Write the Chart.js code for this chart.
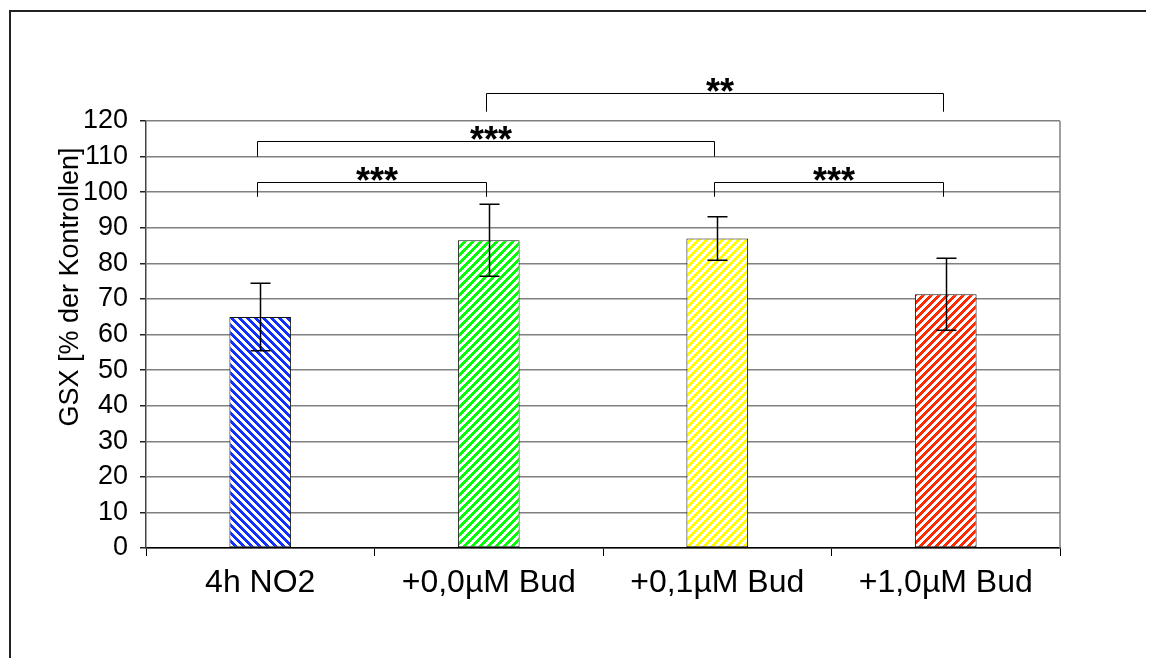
<!DOCTYPE html>
<html>
<head>
<meta charset="utf-8">
<script src="https://cdn.jsdelivr.net/npm/chart.js@4"></script>
<style>
  html, body { margin: 0; padding: 0; background: #fff; }
  #wrap { width: 1156px; height: 668px; position: relative; }
</style>
</head>
<body>
<div id="wrap"><canvas id="myChart"></canvas></div>
<script>
    // groups and measured values
    var categories = ['4h NO2', '+0,0\u00b5M Bud', '+0,1\u00b5M Bud', '+1,0\u00b5M Bud'];
    var means = [64.9, 86.5, 87.0, 71.3];
    var errors = [9.5, 10.1, 6.1, 10.1];
    var barColors = ['#1030ff', '#00ff00', '#ffff00', '#ff2a00'];
    var stripeDir = ['down', 'up', 'up', 'up'];

    // significance brackets: from/to category index, bar height, end height, stars
    var bracketFrom = [0, 0, 1, 2];
    var bracketTo = [1, 2, 3, 3];
    var bracketTop = [102.8, 114.4, 127.8, 102.8];
    var bracketEnd = [98.7, 110.0, 122.6, 98.7];
    var bracketLabel = ['***', '***', '**', '***'];

    var yTicks = [0, 10, 20, 30, 40, 50, 60, 70, 80, 90, 100, 110, 120];
    var yTitle = 'GSX [% der Kontrollen]';

    // 8x8 hatch like the old office fills
    function makeStripes(color, dir) {
        var c = document.createElement('canvas');
        c.width = 8; c.height = 8;
        var g = c.getContext('2d');
        g.fillStyle = '#fff';
        g.fillRect(0, 0, 8, 8);
        g.fillStyle = color;
        for (var y = 0; y < 8; y++) {
            for (var x = 0; x < 8; x++) {
                var k = dir === 'up' ? (x + y) % 8 : ((x - y) % 8 + 8) % 8;
                if (k < 4) g.fillRect(x, y, 1, 1);
            }
        }
        return c;
    }

    var errorBars = {
        id: 'errorBars',
        afterDatasetsDraw: function (chart) {
            var ctx = chart.ctx;
            var y = chart.scales.y;
            var meta = chart.getDatasetMeta(0);
            ctx.save();
            ctx.strokeStyle = '#000';
            ctx.lineWidth = 1.5;
            meta.data.forEach(function (bar, i) {
                var x = Math.round(bar.x) + 0.5;
                var hi = y.getPixelForValue(means[i] + errors[i]);
                var lo = y.getPixelForValue(means[i] - errors[i]);
                ctx.beginPath();
                ctx.moveTo(x, hi); ctx.lineTo(x, lo);
                ctx.moveTo(x - 10, hi); ctx.lineTo(x + 10, hi);
                ctx.moveTo(x - 10, lo); ctx.lineTo(x + 10, lo);
                ctx.stroke();
            });
            ctx.restore();
        }
    };

    var extras = {
        id: 'extras',
        afterDraw: function (chart) {
            var ctx = chart.ctx;
            var xs = chart.scales.x, ys = chart.scales.y;
            var area = chart.chartArea;
            ctx.save();

            // right edge of the plot area
            ctx.strokeStyle = '#808080';
            ctx.lineWidth = 1.5;
            ctx.beginPath();
            ctx.moveTo(area.right, area.top);
            ctx.lineTo(area.right, area.bottom);
            ctx.stroke();

            // brackets with stars
            ctx.strokeStyle = '#000';
            ctx.lineWidth = 1;
            ctx.fillStyle = '#000';
            ctx.font = 'bold 36px "Liberation Sans", Arial, sans-serif';
            ctx.textAlign = 'center';
            ctx.textBaseline = 'alphabetic';
            for (var i = 0; i < bracketLabel.length; i++) {
                var x1 = Math.round(xs.getPixelForValue(bracketFrom[i])) - 2.5;
                var x2 = Math.round(xs.getPixelForValue(bracketTo[i])) - 2.5;
                var yt = Math.round(ys.getPixelForValue(bracketTop[i])) + 0.5;
                var ye = ys.getPixelForValue(bracketEnd[i]);
                ctx.beginPath();
                ctx.moveTo(x1, ye); ctx.lineTo(x1, yt);
                ctx.lineTo(x2, yt); ctx.lineTo(x2, ye);
                ctx.stroke();
                ctx.fillText(bracketLabel[i], (x1 + x2) / 2 + 5, yt + 10);
            }

            // axis title
            ctx.font = '27px "Liberation Sans", Arial, sans-serif';
            ctx.translate(71, 287);
            ctx.rotate(-Math.PI / 2);
            ctx.textBaseline = 'middle';
            ctx.fillText(yTitle, 0, 0);
            ctx.restore();

            // frame around the whole chart
            ctx.save();
            ctx.strokeStyle = '#222';
            ctx.lineWidth = 2;
            ctx.beginPath();
            ctx.moveTo(10, 658);
            ctx.lineTo(10, 11);
            ctx.lineTo(1146, 11);
            ctx.stroke();
            ctx.restore();
        }
    };

    window.onload = function () {
        var ctx = document.getElementById('myChart').getContext('2d');

        var fills = barColors.map(function (c, i) {
            return ctx.createPattern(makeStripes(c, stripeDir[i]), 'repeat');
        });

        new Chart(ctx, {
            type: 'bar',
            data: {
                labels: categories,
                datasets: [{
                    data: means,
                    backgroundColor: fills,
                    borderColor: '#111',
                    borderWidth: 1,
                    borderSkipped: false,
                    barPercentage: 0.27,
                    categoryPercentage: 1
                }]
            },
            options: {
                responsive: true,
                maintainAspectRatio: false,
                animation: false,
                layout: { padding: { top: 121, right: 96, left: 0, bottom: 0 } },
                plugins: {
                    legend: { display: false },
                    tooltip: { enabled: false }
                },
                scales: {
                    x: {
                        afterFit: function (scale) { scale.height = 120; },
                        grid: {
                            offset: true,
                            drawOnChartArea: false,
                            tickLength: 8,
                            color: '#000'
                        },
                        border: { color: '#000', width: 1.5 },
                        ticks: {
                            color: '#000',
                            padding: 8,
                            maxRotation: 0,
                            font: { family: '"Liberation Sans", Arial, sans-serif', size: 32 }
                        }
                    },
                    y: {
                        min: 0,
                        max: 120,
                        afterFit: function (scale) { scale.width = 146; },
                        afterBuildTicks: function (scale) {
                            scale.ticks = yTicks.map(function (v) { return { value: v }; });
                        },
                        grid: {
                            color: '#808080',
                            lineWidth: 1.5,
                            tickLength: 6,
                            tickColor: '#222'
                        },
                        border: { color: '#444', width: 1.5 },
                        ticks: {
                            color: '#000',
                            padding: 12,
                            font: { family: '"Liberation Sans", Arial, sans-serif', size: 27 }
                        }
                    }
                }
            },
            plugins: [errorBars, extras]
        });
    };
</script>
</body>
</html>
